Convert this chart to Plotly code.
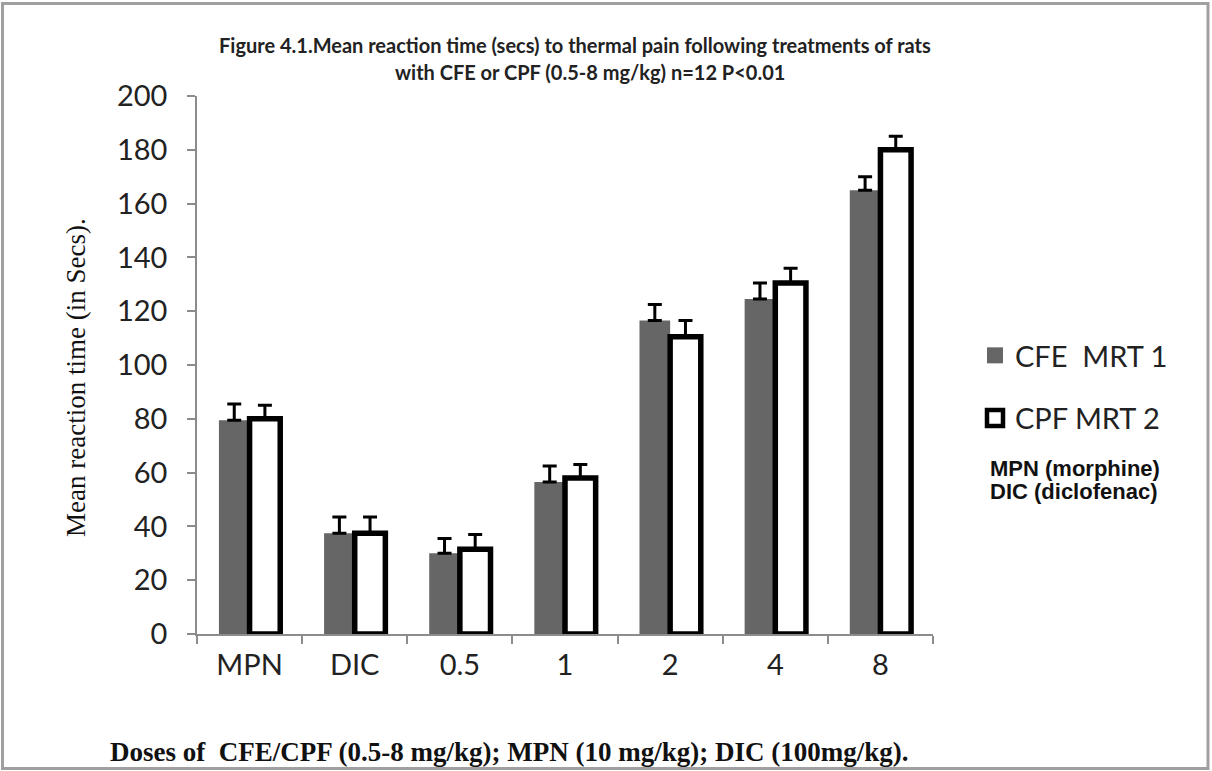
import plotly.graph_objects as go

categories = ["MPN", "DIC", "0.5", "1", "2", "4", "8"]
cfe_mrt1 = [79.5, 37.5, 30, 56.5, 116.5, 124.5, 165]
cfe_err = [6, 6, 5.5, 6, 6, 6, 5]
cpf_mrt2 = [80, 37.5, 31.5, 58, 110.5, 130.5, 180]
cpf_err = [5, 6, 5.5, 5, 6, 5.5, 5]
y_ticks = [0, 20, 40, 60, 80, 100, 120, 140, 160, 180, 200]

W, H = 1212, 771
L, R, T, B = 197, 933, 96, 634
pw, ph = R - L, B - T

def px(x):
    return (x - L) / pw

def py(y):
    return (B - y) / ph

fig = go.Figure()
fig.add_trace(go.Bar(
    x=categories, y=cfe_mrt1, name="CFE\u00a0 MRT 1",
    marker=dict(color="#666666", line=dict(width=0)),
    error_y=dict(type="data", symmetric=False, array=cfe_err,
                 arrayminus=[0] * len(cfe_err), color="black",
                 thickness=3, width=7),
    legendgroup="a", showlegend=False,
))
fig.add_trace(go.Bar(
    x=categories, y=cpf_mrt2, name="CPF MRT 2",
    marker=dict(color="white", line=dict(width=5.5, color="black")),
    error_y=dict(type="data", symmetric=False, array=cpf_err,
                 arrayminus=[0] * len(cpf_err), color="black",
                 thickness=3, width=7),
    legendgroup="b", showlegend=False,
))
# legend entries (larger square swatches, as in the original)
fig.add_trace(go.Scatter(
    x=[None], y=[None], mode="markers", name="CFE\u00a0 MRT 1",
    marker=dict(symbol="square", size=16, color="#666666", line=dict(width=0)),
    legendgroup="a", showlegend=True,
))
fig.add_trace(go.Scatter(
    x=[None], y=[None], mode="markers", name="CPF MRT 2",
    marker=dict(symbol="square", size=16, color="white",
                line=dict(width=4.5, color="black")),
    legendgroup="b", showlegend=True,
))

fig.update_layout(
    width=W, height=H,
    margin=dict(l=L, r=W - R, t=T, b=H - B, pad=0),
    paper_bgcolor="white", plot_bgcolor="white",
    barmode="group", bargap=0.417, bargroupgap=0,
    font=dict(family="Lato", color="#222222"),
    showlegend=True,
    legend=dict(x=px(975), xanchor="left", y=py(330), yanchor="top",
                font=dict(family="Lato", size=29, color="#222222"),
                tracegroupgap=22, bgcolor="rgba(0,0,0,0)"),
    xaxis=dict(type="category", showline=True, linecolor="#8c8c8c",
               linewidth=1.5, ticks="outside", tickson="boundaries",
               ticklen=8, tickcolor="#8c8c8c", tickwidth=1.5,
               showgrid=False, zeroline=False, ticklabelstandoff=4,
               tickfont=dict(family="Lato", size=29, color="#222222")),
    yaxis=dict(range=[0, 200], tickvals=y_ticks, showline=True,
               linecolor="#8c8c8c", linewidth=1.5, ticks="outside",
               ticklen=8, tickcolor="#8c8c8c", tickwidth=1.5,
               showgrid=False, zeroline=False, ticklabelstandoff=14,
               tickfont=dict(family="Lato", size=29, color="#222222")),
)

annotations = [
    dict(text="<b>Figure 4.1.Mean reaction time (secs) to thermal pain following treatments of rats</b>",
         x=px(575), y=py(45), xref="paper", yref="paper", showarrow=False,
         xanchor="center", yanchor="middle",
         font=dict(family="Lato", size=20, color="#222222")),
    dict(text="<b>with CFE or CPF (0.5-8 mg/kg) n=12 P<0.01</b>",
         x=px(590), y=py(72), xref="paper", yref="paper", showarrow=False,
         xanchor="center", yanchor="middle",
         font=dict(family="Lato", size=20, color="#222222")),
    dict(text="Mean reaction time (in Secs).", textangle=-90,
         x=px(76), y=py(378), xref="paper", yref="paper", showarrow=False,
         xanchor="center", yanchor="middle",
         font=dict(family="Liberation Serif", size=27, color="#111111")),
    dict(text="<b>Doses of\u00a0 CFE/CPF (0.5-8 mg/kg); MPN (10 mg/kg); DIC (100mg/kg).</b>",
         x=px(108), y=py(752), xref="paper", yref="paper", showarrow=False,
         xanchor="left", yanchor="middle",
         font=dict(family="Liberation Serif", size=27, color="#111111")),
    dict(text="<b>MPN (morphine)</b>",
         x=px(988), y=py(468), xref="paper", yref="paper", showarrow=False,
         xanchor="left", yanchor="middle", align="left",
         font=dict(family="Liberation Sans", size=22, color="#111111")),
    dict(text="<b>DIC (diclofenac)</b>",
         x=px(988), y=py(492), xref="paper", yref="paper", showarrow=False,
         xanchor="left", yanchor="middle", align="left",
         font=dict(family="Liberation Sans", size=22, color="#111111")),
]
fig.update_layout(annotations=annotations)

fig.add_shape(type="rect", xref="paper", yref="paper",
              x0=px(2.5), x1=px(1208), y0=py(768.5), y1=py(3.5),
              line=dict(color="#a0a0a0", width=3), fillcolor="rgba(0,0,0,0)",
              layer="below")

fig.write_html("out.html", config={"displayModeBar": False},
               post_script="document.body.style.margin='0px';")
